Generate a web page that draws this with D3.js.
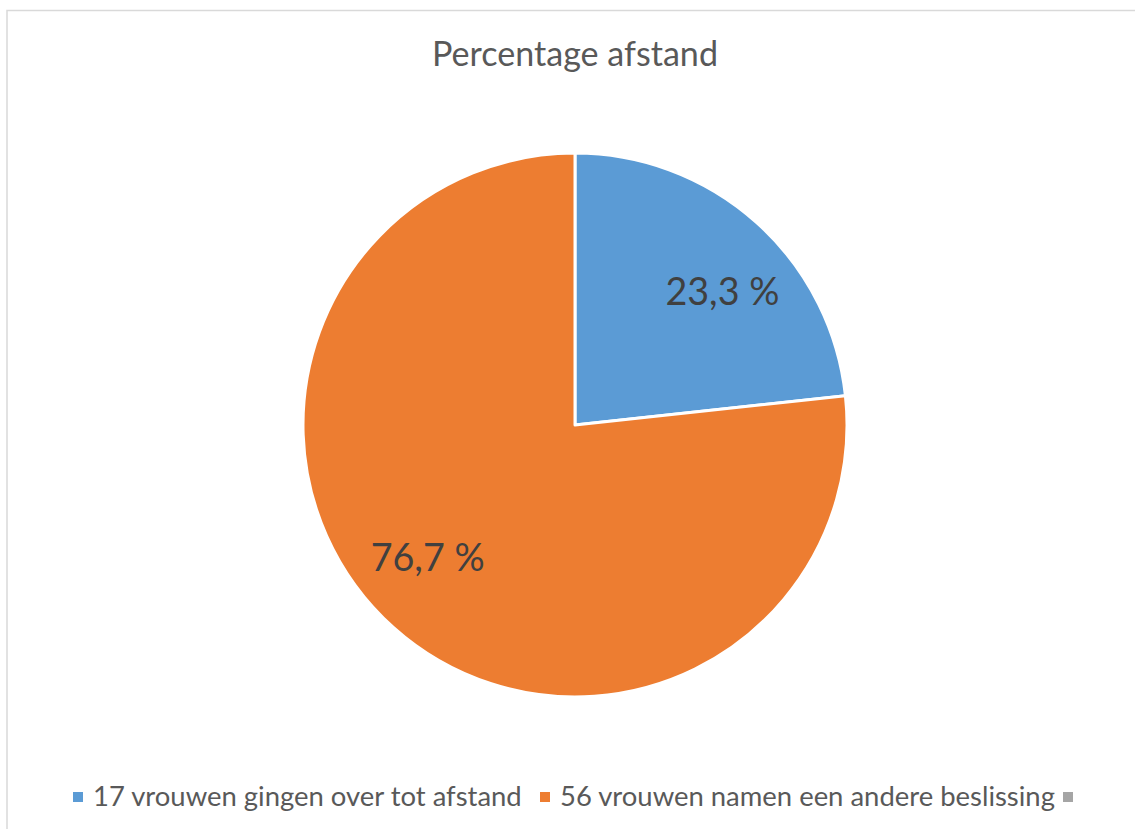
<!DOCTYPE html>
<html><head><meta charset="utf-8">
<script src="https://cdn.jsdelivr.net/npm/d3@7"></script>
<style>body{margin:0;background:#fff}svg{display:block}</style>
</head><body>
<svg id="c" width="1135" height="829"></svg>
<script>
const title = "Percentage afstand";
const categories = ["17 vrouwen gingen over tot afstand", "56 vrouwen namen een andere beslissing", ""];
const values = [17, 56, 0];
const labels = ["23,3 %", "76,7 %", ""];
const colors = ["#5B9BD5", "#ED7D31", "#A5A5A5"];

const W = 1135, H = 829;
const svg = d3.select("#c");
const FONT = "Lato, 'Open Sans', sans-serif";

svg.append("rect").attr("x", 7).attr("y", 10.5).attr("width", W).attr("height", H)
  .attr("fill", "#fff").attr("stroke", "#d9d9d9").attr("stroke-width", 1.5);

function fit(sel, target) {
  const w = sel.node().getComputedTextLength();
  const fs = parseFloat(sel.attr("font-size"));
  sel.attr("font-size", fs * target / w);
}

const t = svg.append("text").attr("x", 575).attr("y", 66).attr("text-anchor", "middle")
  .attr("font-family", FONT).attr("font-size", 32).attr("fill", "#595959").text(title);
fit(t, 286);

const cx = 575, cy = 425, R = 272;
const pie = d3.pie().sort(null).value(d => d.v);
const data = pie(values.map((v, i) => ({v, i})));
const arc = d3.arc().innerRadius(0).outerRadius(R);
const g = svg.append("g").attr("transform", `translate(${cx},${cy})`);
g.selectAll("path").data(data.filter(d => d.data.v > 0)).join("path")
  .attr("d", arc).attr("fill", d => colors[d.data.i])
  .attr("stroke", "#fff").attr("stroke-width", 3).attr("stroke-linejoin", "round");

const labelR = R * 0.73, labelShift = 6 * Math.PI / 180;
g.selectAll("text.l").data(data.filter(d => d.data.v > 0)).join("text")
  .attr("class", "l")
  .attr("transform", d => {
    const a = (d.startAngle + d.endAngle) / 2 + labelShift;
    return `translate(${labelR * Math.sin(a)},${-labelR * Math.cos(a)})`;
  })
  .attr("text-anchor", "middle").attr("dy", "0.35em")
  .attr("font-family", FONT).attr("font-size", 36).attr("fill", "#404040")
  .text(d => labels[d.data.i])
  .each(function(){ fit(d3.select(this), 114); });

// legend
const legX = [73, 540, 1063];
const legW = [429, 495, 0];
const lg = svg.append("g");
categories.forEach((c, i) => {
  lg.append("rect").attr("x", legX[i]).attr("y", 792).attr("width", 10).attr("height", 10)
    .attr("fill", colors[i]);
  if (c) {
    const tx = lg.append("text").attr("x", legX[i] + 20).attr("y", 806)
      .attr("font-family", FONT).attr("font-size", 24).attr("fill", "#595959").text(c);
    fit(tx, legW[i]);
  }
});
</script>
</body></html>
